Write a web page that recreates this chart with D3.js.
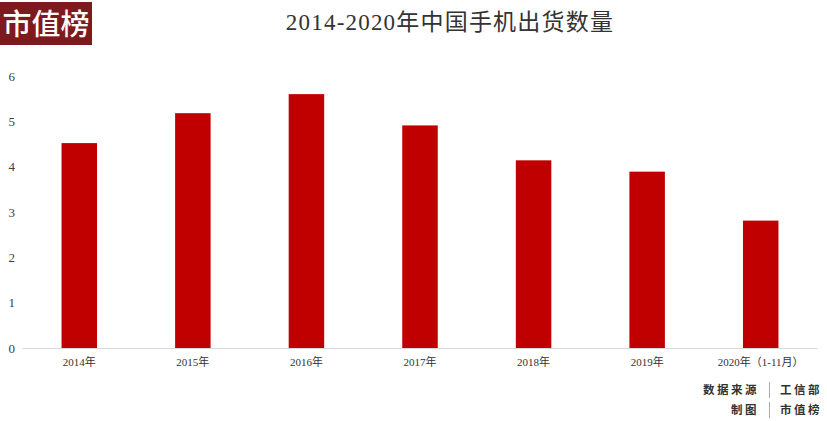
<!DOCTYPE html>
<html><head><meta charset="utf-8">
<script src="https://cdn.jsdelivr.net/npm/d3@7"></script>
<style>body{margin:0;background:#fff}svg{display:block}</style>
</head><body><svg id="c" width="827" height="421"></svg>
<script>
const categories = ["2014年","2015年","2016年","2017年","2018年","2019年","2020年（1-11月）"];
const values = [4.52, 5.18, 5.60, 4.91, 4.14, 3.89, 2.81];
const yTicks = [0,1,2,3,4,5,6];
const title = "2014-2020年中国手机出货数量";
const sourceRows = [["数据来源","工信部"],["制图","市值榜"]];

const svg = d3.select("#c");
const x = d3.scaleBand().domain(categories).range([22.5, 817.5]).paddingInner(0.6875).paddingOuter(0.34375);
const y = d3.scaleLinear().domain([0,6]).range([348, 76]);

// logo
svg.append("rect").attr("x",0).attr("y",2).attr("width",92).attr("height",43).attr("fill","#7d1a1e");
svg.append("text").attr("x",46).attr("y",35).attr("text-anchor","middle")
  .attr("font-family","'Noto Sans CJK SC'").attr("font-size",29).attr("font-weight",500).attr("fill","#fff").text("市值榜");

// title
svg.append("text").attr("x",450).attr("y",30).attr("text-anchor","middle")
  .attr("font-family","'Liberation Serif','Noto Sans CJK SC'").attr("font-size",23).attr("letter-spacing",1.2).attr("fill","#333")
  .text(title);

// baseline
svg.append("line").attr("x1",22.5).attr("x2",817.5).attr("y1",y(0)+0.5).attr("y2",y(0)+0.5)
  .attr("stroke","#d9d9d9").attr("stroke-width",1);

// bars
svg.append("g").selectAll("rect").data(values).join("rect")
  .attr("x",(d,i)=>x(categories[i])).attr("width",x.bandwidth())
  .attr("y",d=>y(d)).attr("height",d=>y(0)-y(d)).attr("fill","#c00000");

// y axis
const yAxis = d3.axisLeft(y).tickValues(yTicks).tickSize(0).tickPadding(0).tickFormat(d3.format("d"));
const yg = svg.append("g").attr("transform","translate(15,0)").call(yAxis);
yg.select(".domain").remove();
yg.selectAll("text").attr("font-family","'Liberation Serif',serif").attr("font-size",13).attr("fill","#404040");

// x axis
const xAxis = d3.axisBottom(x).tickSize(0).tickPadding(0);
const xg = svg.append("g").attr("transform",`translate(0,${y(0)+10})`).call(xAxis);
xg.select(".domain").remove();
xg.selectAll("text").attr("font-family","'Liberation Serif','Noto Sans CJK SC'").attr("font-size",11).attr("fill","#333");

// source
const sg = svg.append("g");
sourceRows.forEach((r,i)=>{
  const cy = 394 + i*20;
  sg.append("text").attr("x",759).attr("y",cy).attr("text-anchor","end")
    .attr("font-family","'Noto Sans CJK SC'").attr("font-size",11.5).attr("font-weight",700).attr("letter-spacing",2.5).attr("fill","#333").text(r[0]);
  sg.append("line").attr("x1",769.5).attr("x2",769.5).attr("y1",cy-12).attr("y2",cy+4).attr("stroke","#aaa");
  sg.append("text").attr("x",780).attr("y",cy)
    .attr("font-family","'Noto Sans CJK SC'").attr("font-size",11.5).attr("font-weight",700).attr("letter-spacing",2.5).attr("fill","#333").text(r[1]);
});
</script></body></html>
